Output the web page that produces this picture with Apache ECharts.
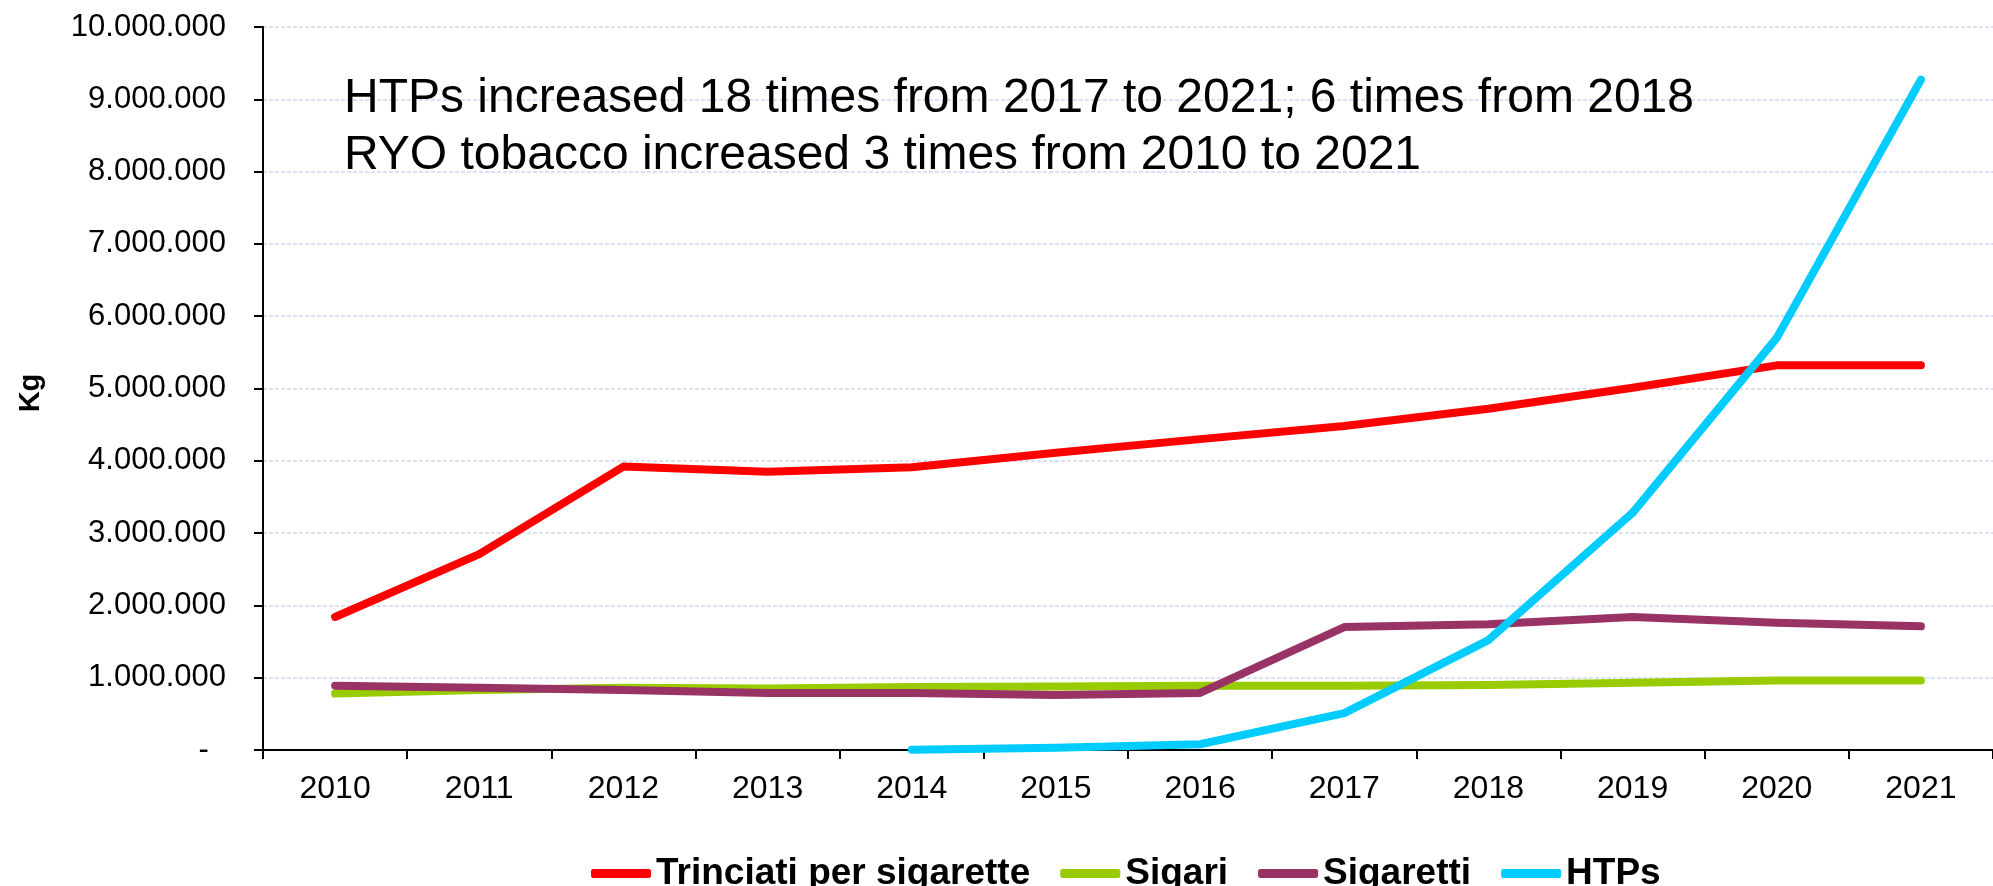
<!DOCTYPE html>
<html>
<head>
<meta charset="utf-8">
<script src="https://cdn.jsdelivr.net/npm/echarts@6/dist/echarts.min.js"></script>
<style>
  html, body { margin: 0; padding: 0; background: #fff; }
  #chart { width: 1993px; height: 886px; }
</style>
</head>
<body>
<div id="chart"></div>
<script>
// Years on the category axis
const years = ['2010', '2011', '2012', '2013', '2014', '2015', '2016', '2017', '2018', '2019', '2020', '2021'];

// Sales in kg per product type
const trinciati = [1840000, 2710000, 3920000, 3850000, 3910000, 4110000, 4300000, 4480000, 4720000, 5010000, 5320000, 5320000];
const sigari    = [780000, 830000, 860000, 850000, 870000, 880000, 890000, 890000, 900000, 930000, 960000, 960000];
const sigaretti = [890000, 860000, 830000, 790000, 790000, 760000, 790000, 1700000, 1740000, 1840000, 1760000, 1710000];
const htps      = [null, null, null, null, 5000, 30000, 80000, 510000, 1520000, 3280000, 5700000, 9270000];

const seriesNames = ['Trinciati per sigarette', 'Sigari', 'Sigaretti', 'HTPs'];
const seriesColors = ['#FF0000', '#99CC00', '#993366', '#00CCFF'];

const noteLines = [
  'HTPs increased 18 times from 2017 to 2021; 6 times from 2018',
  'RYO tobacco increased 3 times from 2010 to 2021'
];

// Thousands separated by dots, zero shown as a dash
function formatKg(v) {
  if (v === 0) return '-  ';
  return String(v).replace(/\B(?=(\d{3})+(?!\d))/g, '.');
}

const FONT = 'Arial, "Liberation Sans", sans-serif';

const chart = echarts.init(document.getElementById('chart'), null, { renderer: 'canvas' });

const dataSets = [trinciati, sigari, sigaretti, htps];

chart.setOption({
  backgroundColor: '#ffffff',
  animation: false,
  title: {
    text: noteLines.join('\n'),
    left: 339,
    top: 65,
    textStyle: {
      fontFamily: FONT,
      fontWeight: 'normal',
      fontSize: 48,
      lineHeight: 57,
      color: '#000'
    }
  },
  grid: { left: 263, right: 0, top: 27, bottom: 136, containLabel: false },
  legend: {
    left: 586,
    top: 850,
    itemWidth: 60,
    itemHeight: 9,
    itemGap: 30,
    icon: 'roundRect',
    textStyle: {
      fontFamily: FONT,
      fontWeight: 'bold',
      fontSize: 37,
      lineHeight: 37,
      color: '#000'
    },
    data: seriesNames
  },
  xAxis: {
    type: 'category',
    data: years,
    boundaryGap: true,
    axisLine: { lineStyle: { color: '#000', width: 2 } },
    axisTick: { show: true, length: 9, alignWithLabel: false, lineStyle: { color: '#000', width: 2 } },
    axisLabel: { fontFamily: FONT, fontSize: 32, color: '#000', margin: 23 },
    splitLine: { show: false }
  },
  yAxis: {
    type: 'value',
    min: 0,
    max: 10000000,
    interval: 1000000,
    axisLine: { show: true, lineStyle: { color: '#000', width: 2 } },
    axisTick: { show: true, length: 9, lineStyle: { color: '#000', width: 2 } },
    axisLabel: {
      fontFamily: FONT,
      fontSize: 31,
      color: '#000',
      margin: 37,
      formatter: formatKg
    },
    splitLine: { show: true, lineStyle: { color: '#cdd8f0', width: 1.5, type: [4, 2] } }
  },
  graphic: [{
    type: 'text',
    x: 31,
    y: 393,
    rotation: Math.PI / 2,
    style: {
      text: 'Kg',
      font: 'bold 29px ' + FONT,
      fill: '#000',
      align: 'center',
      verticalAlign: 'middle'
    }
  }],
  series: dataSets.map((d, i) => ({
    name: seriesNames[i],
    type: 'line',
    data: d,
    symbol: 'none',
    smooth: false,
    connectNulls: false,
    color: seriesColors[i],
    lineStyle: { width: 8, color: seriesColors[i], cap: 'round', join: 'round' }
  }))
});
</script>
</body>
</html>
